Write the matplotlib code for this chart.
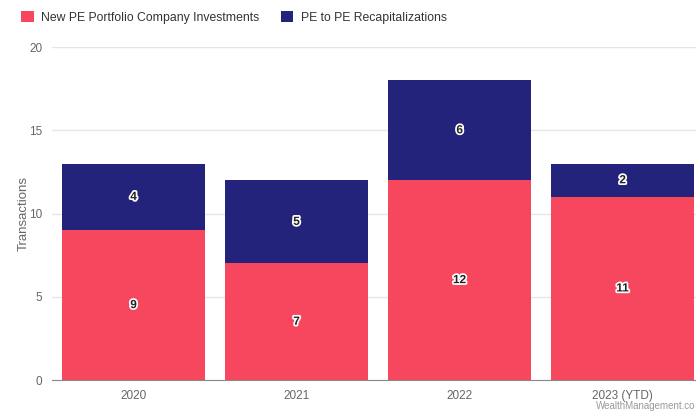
import matplotlib.pyplot as plt
import matplotlib.patheffects as pe

plt.rcParams["font.family"] = ["Liberation Sans", "DejaVu Sans"]

years = ["2020", "2021", "2022", "2023 (YTD)"]
new_pe = [9, 7, 12, 11]
recaps = [4, 5, 6, 2]

red = "#f7475f"
navy = "#23237b"

fig = plt.figure(figsize=(6.96, 4.13), dpi=100)
ax = fig.add_axes([0.0747, 0.0799, 0.937, 0.806])

x = range(len(years))
b1 = ax.bar(x, new_pe, width=0.877, color=red, zorder=2)
b2 = ax.bar(x, recaps, width=0.877, bottom=new_pe, color=navy, zorder=2)

halo = [pe.withStroke(linewidth=2.5, foreground="white")]
for i in x:
    ax.text(i, new_pe[i] / 2, str(new_pe[i]), ha="center", va="center",
            fontsize=8.5, fontweight="bold", color="#222222", path_effects=halo, zorder=3)
    ax.text(i, new_pe[i] + recaps[i] / 2, str(recaps[i]), ha="center", va="center",
            fontsize=8.5, fontweight="bold", color="#222222", path_effects=halo, zorder=3)

ax.set_xlim(-0.5, 3.5)
ax.set_ylim(0, 20)
ax.set_yticks([0, 5, 10, 15, 20])
ax.set_xticks(list(x))
ax.set_xticklabels(years)
ax.grid(axis="y", color="#e6e6e6", linewidth=1, zorder=0)
for s in ["top", "right", "left"]:
    ax.spines[s].set_visible(False)
ax.spines["bottom"].set_color("#888888")
ax.tick_params(axis="both", length=0, labelsize=8.5, colors="#666666", pad=7)
ax.set_ylabel("Transactions", fontsize=9.5, color="#666666")
ax.yaxis.set_label_coords(-0.034, 0.5)

fig.legend([b1, b2], ["New PE Portfolio Company Investments", "PE to PE Recapitalizations"],
           loc="upper left", bbox_to_anchor=(0.015, 1.0), ncol=2, frameon=False,
           fontsize=8.8, handlelength=1.0, handleheight=1.0, columnspacing=1.8,
           handletextpad=0.6, labelcolor="#333333")

fig.text(0.999, 0.004, "WealthManagement.co", ha="right", va="bottom", fontsize=7, color="#999999")

fig.savefig("out.png")
